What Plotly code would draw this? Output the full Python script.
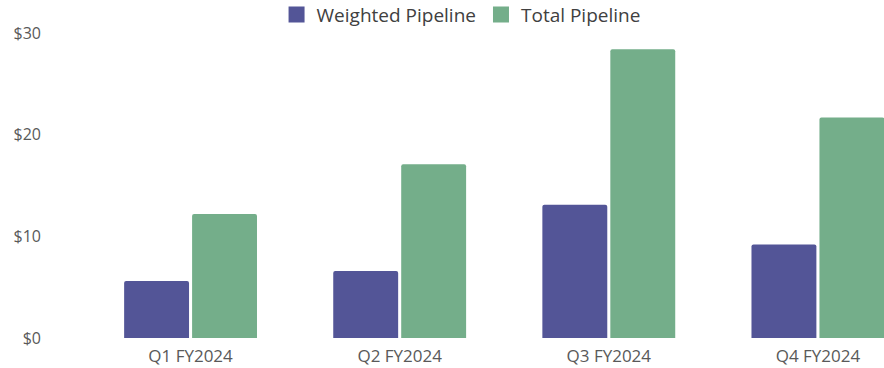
import plotly.graph_objects as go

quarters = ["Q1 FY2024", "Q2 FY2024", "Q3 FY2024", "Q4 FY2024"]
weighted_pipeline = [5.6, 6.6, 13.1, 9.2]
total_pipeline = [12.2, 17.1, 28.4, 21.7]
y_ticks = [0, 10, 20, 30]
y_tick_labels = ["$0", "$10", "$20", "$30"]
series_names = ["Weighted Pipeline", "Total Pipeline"]
series_colors = ["#535597", "#74AE8A"]

font_family = "Open Sans, Noto Sans, sans-serif"
text_color = "#595959"

fig = go.Figure()
for name, values, color in zip(series_names, [weighted_pipeline, total_pipeline], series_colors):
    fig.add_trace(go.Bar(name=name, x=quarters, y=values, showlegend=False,
                         marker=dict(color=color, line=dict(width=0))))

# square legend swatches
for name, color in zip(series_names, series_colors):
    fig.add_trace(go.Scatter(name=name, x=[None], y=[None], mode="markers",
                             marker=dict(symbol="square", size=16, color=color),
                             showlegend=True))

fig.update_layout(
    width=884, height=368,
    margin=dict(l=86, r=0, t=33, b=30, autoexpand=False),
    paper_bgcolor="white", plot_bgcolor="white",
    barmode="group", bargap=0.35, bargroupgap=0.045, barcornerradius=2,
    font=dict(family=font_family, color=text_color, size=15),
    legend=dict(orientation="h", x=0.47, xanchor="center", y=1.06, yanchor="middle",
                font=dict(size=19, color="#404040"), itemwidth=30,
                traceorder="normal"),
    showlegend=True,
)
fig.update_xaxes(range=[-0.5, 3.316], showgrid=False, showline=False, ticks="",
                 ticklabelstandoff=6, tickfont=dict(size=17, color=text_color))
fig.update_yaxes(range=[0, 30], tickvals=y_ticks, ticktext=y_tick_labels,
                 showgrid=False, zeroline=False, showline=False, ticks="",
                 ticklabelstandoff=44, tickfont=dict(size=16, color=text_color))

fig.write_html("out.html")
